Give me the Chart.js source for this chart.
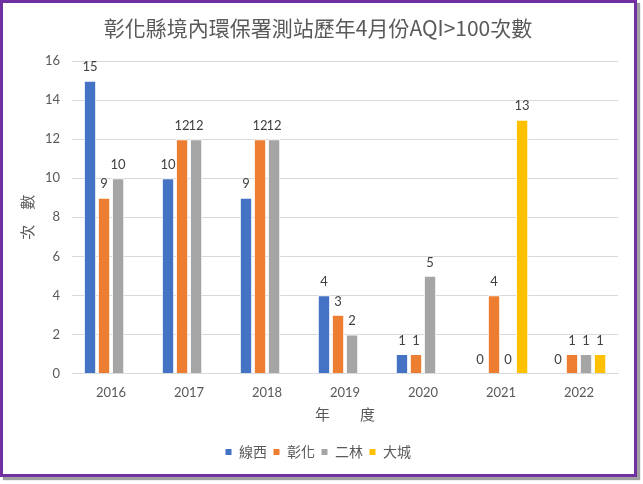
<!DOCTYPE html>
<html>
<head>
<meta charset="utf-8">
<script src="https://cdn.jsdelivr.net/npm/chart.js"></script>
<style>
  html, body { margin: 0; padding: 0; background: #fff; }
  .frame {
    position: absolute; left: 0; top: 0;
    width: 631px; height: 471px;
    border: 3px solid #7030A0;
    box-shadow: 3px 3px 1px #a0a0a0;
    background: #fff;
  }
  canvas { display: block; }
</style>
</head>
<body>
<div class="frame"><canvas id="chart" width="631" height="471"></canvas></div>
<script>
// 年度與各測站次數
const years = ['2016', '2017', '2018', '2019', '2020', '2021', '2022'];
const xianxi = [15, 10, 9, 4, 1, 0, 0];
const changhua = [9, 12, 12, 3, 1, 4, 1];
const erlin = [10, 12, 12, 2, 5, 0, 1];
const dacheng = [null, null, null, null, null, 13, 1];

const cjk = "'Noto Sans CJK TC', sans-serif";
const latin = "Lato, 'Noto Sans CJK TC', sans-serif";

// 在長條上方標數值
const valueLabels = {
  id: 'valueLabels',
  afterDatasetsDraw(chart) {
    const ctx = chart.ctx;
    ctx.save();
    ctx.font = '13px ' + latin;
    ctx.fillStyle = '#404040';
    ctx.textAlign = 'center';
    ctx.textBaseline = 'bottom';
    chart.data.datasets.forEach((ds, i) => {
      const meta = chart.getDatasetMeta(i);
      meta.data.forEach((bar, j) => {
        const v = ds.data[j];
        if (v === null || v === undefined) return;
        ctx.fillText(String(v), bar.x, bar.y - 7);
      });
    });
    ctx.restore();
  }
};

const makeSet = (label, data, color) => ({
  label: label,
  data: data,
  backgroundColor: color,
  borderColor: '#ffffff',
  borderWidth: 1,
  categoryPercentage: 0.72,
  barPercentage: 0.88
});

new Chart(document.getElementById('chart'), {
  type: 'bar',
  data: {
    labels: years,
    datasets: [
      makeSet('線西', xianxi, '#4472C4'),
      makeSet('彰化', changhua, '#ED7D31'),
      makeSet('二林', erlin, '#A5A5A5'),
      makeSet('大城', dacheng, '#FFC000')
    ]
  },
  options: {
    responsive: false,
    animation: false,
    layout: { padding: { left: 15, right: 16, top: 4, bottom: 5 } },
    plugins: {
      title: {
        display: true,
        text: '彰化縣境內環保署測站歷年4月份AQI>100次數',
        color: '#595959',
        font: { family: cjk, size: 21, weight: 'normal' },
        padding: { top: 8, bottom: 21 }
      },
      legend: {
        position: 'bottom',
        labels: {
          boxWidth: 7, boxHeight: 7,
          color: '#595959',
          font: { family: cjk, size: 14 },
          padding: 6
        }
      },
      tooltip: { enabled: false }
    },
    scales: {
      x: {
        grid: { display: false, drawTicks: false },
        border: { color: '#D9D9D9' },
        ticks: { color: '#595959', font: { family: latin, size: 13 }, padding: 12 },
        title: {
          display: true, text: '年　　度', color: '#595959',
          font: { family: cjk, size: 15 }, padding: { top: -8, bottom: 16 }
        }
      },
      y: {
        min: 0, max: 16,
        grid: { color: '#D9D9D9', drawTicks: false },
        border: { display: false },
        ticks: { stepSize: 2, color: '#595959', font: { family: latin, size: 13 }, padding: 12 },
        title: {
          display: true, text: '次　數', color: '#595959',
          font: { family: cjk, size: 15 }, padding: { top: 0, bottom: -3 }
        }
      }
    }
  },
  plugins: [valueLabels]
});
</script>
</body>
</html>
